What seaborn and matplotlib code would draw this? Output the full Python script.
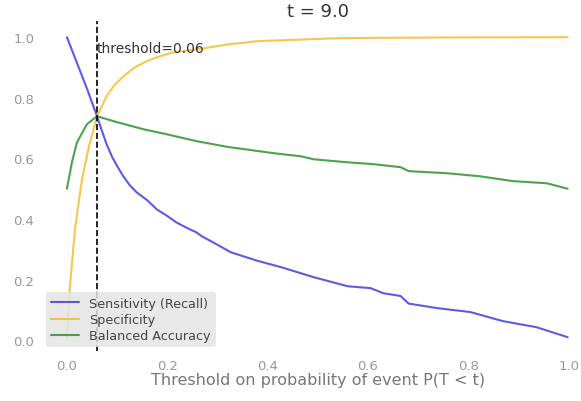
import numpy as np
import matplotlib
matplotlib.use("Agg")
import matplotlib.pyplot as plt
import seaborn as sns
import pandas as pd

# values
sens_x = [0.0, 0.02, 0.04, 0.06, 0.07, 0.079, 0.09, 0.1, 0.112, 0.125, 0.139, 0.16,
          0.179, 0.2, 0.218, 0.24, 0.258, 0.268, 0.3, 0.327, 0.38, 0.427, 0.492,
          0.56, 0.605, 0.631, 0.665, 0.681, 0.738, 0.804, 0.869, 0.936, 0.998]
sens_y = [1.0, 0.915, 0.83, 0.739, 0.69, 0.647, 0.605, 0.575, 0.542, 0.512, 0.488,
          0.462, 0.432, 0.41, 0.389, 0.37, 0.356, 0.344, 0.315, 0.29, 0.262, 0.241,
          0.208, 0.178, 0.172, 0.155, 0.146, 0.121, 0.106, 0.093, 0.063, 0.043, 0.01]

spec_x = [0.0, 0.006, 0.016, 0.03, 0.044, 0.06, 0.079, 0.095, 0.113, 0.135, 0.159,
          0.185, 0.212, 0.268, 0.32, 0.381, 0.546, 0.75, 0.998]
spec_y = [0.0, 0.178, 0.366, 0.531, 0.64, 0.739, 0.805, 0.843, 0.871, 0.9, 0.921,
          0.937, 0.95, 0.962, 0.976, 0.987, 0.997, 0.999, 1.0]

bal_x = [0.0, 0.01, 0.02, 0.04, 0.06, 0.099, 0.153, 0.198, 0.258, 0.32, 0.413,
         0.466, 0.492, 0.56, 0.611, 0.665, 0.681, 0.758, 0.823, 0.889, 0.956, 0.998]
bal_y = [0.5, 0.587, 0.653, 0.713, 0.739, 0.72, 0.696, 0.68, 0.657, 0.638, 0.617,
         0.607, 0.597, 0.587, 0.581, 0.571, 0.558, 0.551, 0.541, 0.525, 0.518, 0.5]

threshold = 0.06
t_value = 9.0

sns.set_style("white")
plt.rcParams['font.family'] = ['DejaVu Sans']

fig = plt.figure(figsize=(5.81, 4.02), dpi=100)
ax = fig.add_axes([0.072, 0.124, 0.95, 0.821])

sns.lineplot(x=sens_x, y=sens_y, ax=ax, color='#3333dd', alpha=0.8, lw=1.5,
             label='Sensitivity (Recall)')
sns.lineplot(x=spec_x, y=spec_y, ax=ax, color='#f5b820', alpha=0.8, lw=1.5,
             label='Specificity')
sns.lineplot(x=bal_x, y=bal_y, ax=ax, color='#228b22', alpha=0.8, lw=1.5,
             label='Balanced Accuracy')

ax.axvline(threshold, color='black', ls='--', lw=1.2)
ax.text(threshold, 0.965, 'threshold={:.2f}'.format(threshold), fontsize=10,
        color='#333333', va='center', ha='left')

ax.set_xlim(-0.05, 1.05)
ax.set_ylim(-0.036, 1.053)
ax.set_xticks([0.0, 0.2, 0.4, 0.6, 0.8, 1.0])
ax.set_yticks([0.0, 0.2, 0.4, 0.6, 0.8, 1.0])
ax.tick_params(colors='#999999', labelsize=9.5, length=2, width=1)
for s in ax.spines.values():
    s.set_visible(False)

ax.set_xlabel('Threshold on probability of event P(T < t)', fontsize=11.5,
              color='#777777', labelpad=0)
ax.set_title('t = {}'.format(t_value), fontsize=13, color='#333333', pad=4)

leg = ax.legend(loc='lower left', fontsize=9.2, frameon=True, borderaxespad=0.3,
                facecolor='#e5e5e5', edgecolor='none', framealpha=0.85,
                labelspacing=0.25, handlelength=2.2)
for t in leg.get_texts():
    t.set_color('#444444')

fig.savefig('out.png', dpi=100)
